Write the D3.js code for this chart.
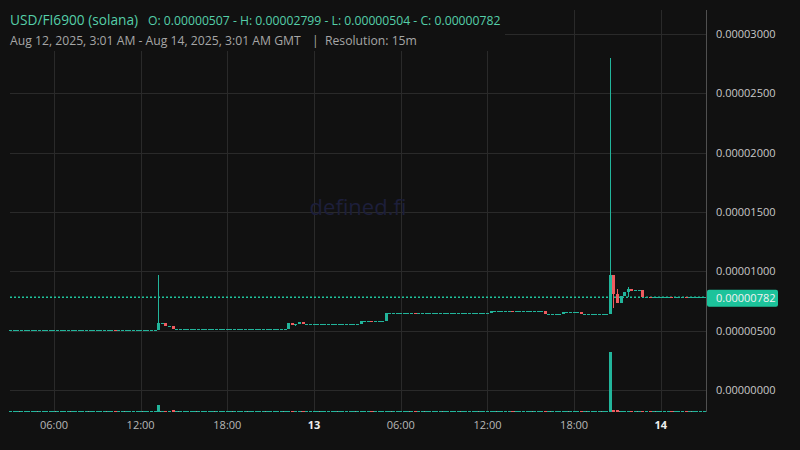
<!DOCTYPE html>
<html><head><meta charset="utf-8">
<script src="https://cdn.jsdelivr.net/npm/d3@7"></script>
<style>html,body{margin:0;padding:0;background:#111111;overflow:hidden}svg{display:block}text{font-family:"Open Sans","Noto Sans",sans-serif}</style>
</head><body>
<svg id="c" width="800" height="450"></svg>
<script>
// ---- data (prices in units of 1e-8) ----
const PRICE_UNIT = 1e-8;
const firstOpen = 507;
const closes = [
 507,507,507,507,507,507,507,507,507,507,507,507,507,507,507,507,507,507,507,507,
 507,507,507,507,507,507,507,507,507,504,504,504,504,504,504,504,504,508,508,508,
 508,567,567,536,538,511,511,511,511,511,511,511,511,511,511,511,511,511,511,511,
 511,511,511,511,511,511,511,511,511,511,511,511,511,511,511,511,511,565,550,553,
 573,553,553,553,553,553,553,553,553,553,553,553,553,553,553,553,553,579,579,579,
 578,578,578,578,646,646,646,646,646,646,646,646,645,645,645,645,645,645,645,645,
 645,645,645,645,645,645,645,645,645,645,645,645,645,663,663,663,663,663,663,662,
 662,662,662,662,662,662,662,662,643,643,643,643,643,657,657,657,657,657,644,644,
 644,644,644,644,644,644,969,809,736,792,823,850,834,840,840,786,786,778,783,783,
 783,783,783,782,782,782,782,781,782,782,782,782,782
];
const wickHighs = [[41, 966], [166, 2799], [168, 851], [171, 868]];
const wickLows  = [[79, 540], [167, 688], [171, 786]];
const volumes = [
 8,6,9,7,10,6,8,9,7,8,10,7,6,9,8,7,9,10,8,6,
 7,9,8,10,7,6,9,8,7,14,8,7,9,6,8,10,7,12,8,9,
 7,70,12,14,10,16,8,7,9,6,8,7,10,9,6,8,7,9,8,10,
 7,6,9,8,7,10,8,6,9,7,8,10,7,9,6,8,7,13,12,10,
 12,11,8,7,9,6,8,10,7,9,8,6,7,9,8,10,7,12,8,7,
 9,8,7,10,14,8,9,7,6,8,10,7,9,8,7,6,9,8,10,7,
 8,9,6,7,10,8,9,7,6,8,9,7,8,12,8,7,9,6,10,9,
 8,7,9,6,8,10,7,8,12,8,9,7,6,11,8,7,9,8,10,8,
 7,9,6,8,7,9,600,25,16,14,12,12,10,9,8,12,8,9,8,7,
 9,6,8,10,7,8,9,7,9,8,7,8,9
];
const startTime = Date.UTC(2025, 7, 12, 3, 0);
const endTime = Date.UTC(2025, 7, 14, 3, 0);
const candleMinutes = 15;
const yTicks = [0, 0.000005, 0.00001, 0.000015, 0.00002, 0.000025, 0.00003];
const xTickTimes = ["2025-08-12T06:00Z","2025-08-12T12:00Z","2025-08-12T18:00Z","2025-08-13T00:00Z","2025-08-13T06:00Z","2025-08-13T12:00Z","2025-08-13T18:00Z","2025-08-14T00:00Z"];
const xTickLabels = ["06:00","12:00","18:00","13","06:00","12:00","18:00","14"];
const lastPrice = 0.00000782;
const titleText = "USD/FI6900 (solana)";
const ohlcText = "O: 0.00000507 - H: 0.00002799 - L: 0.00000504 - C: 0.00000782";
const rangeText = "Aug 12, 2025, 3:01 AM - Aug 14, 2025, 3:01 AM GMT";
const resText = "Resolution: 15m";

// ---- build candles ----
const hiMap = new Map(wickHighs), loMap = new Map(wickLows);
const candles = closes.map((c, i) => {
  const o = i === 0 ? firstOpen : closes[i - 1];
  const h = hiMap.has(i) ? hiMap.get(i) : Math.max(o, c);
  const l = loMap.has(i) ? loMap.get(i) : Math.min(o, c);
  return {t: new Date(startTime + i * candleMinutes * 60000), o: o*PRICE_UNIT, h: h*PRICE_UNIT, l: l*PRICE_UNIT, c: c*PRICE_UNIT, v: volumes[i]};
});

const UP = "#22b59b", DOWN = "#ef5b5f", GRID = "#2a2a2a";
const svg = d3.select("#c");
const plotL = 10, plotR = 706, plotT = 10, plotB = 412;

const x = d3.scaleUtc().domain([new Date(startTime), new Date(endTime)]).range([10.6, 704.2]);
const y = d3.scaleLinear().domain([0, 0.00003]).range([390, 34]);
const yv = d3.scaleLinear().domain([0, d3.max(volumes)]).range([plotB - 0.5, 352]);

// grid
const g = svg.append("g");
g.selectAll("line.h").data(yTicks).join("line")
  .attr("x1", plotL).attr("x2", plotR).attr("y1", d => Math.round(y(d)) + 0.5).attr("y2", d => Math.round(y(d)) + 0.5)
  .attr("stroke", GRID).attr("stroke-width", 1);
g.selectAll("line.v").data(xTickTimes).join("line")
  .attr("x1", d => Math.round(x(new Date(d))) + 0.5).attr("x2", d => Math.round(x(new Date(d))) + 0.5)
  .attr("y1", plotT).attr("y2", plotB).attr("stroke", GRID).attr("stroke-width", 1);

// watermark
svg.append("text").attr("x", 358).attr("y", 215).attr("text-anchor", "middle")
  .attr("font-size", 22).attr("fill", "#1d1f3b").text("defined.fi");

// volume baseline
svg.append("line").attr("x1", plotL).attr("x2", plotR - 1).attr("y1", plotB - 0.5).attr("y2", plotB - 0.5)
  .attr("stroke", "#9a9a9a").attr("stroke-width", 1).attr("stroke-dasharray", "1,2");

// volume bars
const bw = 3;
svg.append("g").attr("shape-rendering", "crispEdges").selectAll("rect").data(candles).join("rect")
  .attr("x", d => Math.round(x(d.t) - bw / 2)).attr("width", bw)
  .attr("y", d => { const h = Math.max(1, Math.round(yv(0) - yv(d.v))); return Math.round(plotB) - h; })
  .attr("height", d => Math.max(1, Math.round(yv(0) - yv(d.v))))
  .attr("fill", d => d.c >= d.o ? UP : DOWN);

// current price dotted line
svg.append("line").attr("x1", plotL).attr("x2", plotR).attr("y1", y(lastPrice)).attr("y2", y(lastPrice))
  .attr("stroke", "#1fc39b").attr("stroke-width", 1.4).attr("stroke-dasharray", "2,2");

// candles
const cg = svg.append("g").attr("shape-rendering", "crispEdges");
cg.selectAll("rect.w").data(candles.filter(d => d.h > Math.max(d.o, d.c) || d.l < Math.min(d.o, d.c))).join("rect")
  .attr("x", d => Math.round(x(d.t) - bw / 2) + 1).attr("width", 1)
  .attr("y", d => y(d.h)).attr("height", d => Math.max(1, y(d.l) - y(d.h)))
  .attr("fill", d => d.c >= d.o ? UP : DOWN);
cg.selectAll("rect.b").data(candles).join("rect")
  .attr("x", d => Math.round(x(d.t) - bw / 2)).attr("width", bw)
  .attr("y", d => Math.min(y(d.o), y(d.c)))
  .attr("height", d => Math.max(1, Math.abs(y(d.o) - y(d.c))))
  .attr("fill", d => d.c >= d.o ? UP : DOWN);

// right axis
svg.append("line").attr("x1", plotR + 0.5).attr("x2", plotR + 0.5).attr("y1", plotT).attr("y2", plotB)
  .attr("stroke", "#505050").attr("stroke-width", 1);
svg.append("g").selectAll("text").data(yTicks).join("text")
  .attr("x", 716).attr("y", d => y(d)).attr("dy", "0.35em")
  .attr("font-size", 11).attr("fill", "#c8c8c8").text(d => d.toFixed(8));

// price tag
svg.append("rect").attr("x", plotR + 1).attr("y", y(lastPrice) - 7.5).attr("width", 71).attr("height", 17).attr("rx", 2)
  .attr("fill", "#1cc39b");
svg.append("text").attr("x", 716).attr("y", y(lastPrice) + 1).attr("dy", "0.35em")
  .attr("font-size", 11).attr("fill", "#f2f2f2").text(lastPrice.toFixed(8));

// x axis labels
svg.append("g").selectAll("text").data(xTickTimes).join("text")
  .attr("x", d => x(new Date(d))).attr("y", 425).attr("dy", "0.35em").attr("text-anchor", "middle")
  .attr("font-size", 11)
  .attr("font-weight", (d, i) => xTickLabels[i].includes(":") ? "normal" : "bold")
  .attr("fill", (d, i) => xTickLabels[i].includes(":") ? "#b8b8b8" : "#eeeeee")
  .text((d, i) => xTickLabels[i]);

// legend
svg.append("rect").attr("x", 0).attr("y", 0).attr("width", 505).attr("height", 51).attr("fill", "#111111");
svg.append("text").attr("x", 10).attr("y", 25).attr("font-size", 13.7).attr("fill", "#55cfa9").text(titleText);
svg.append("text").attr("x", 148).attr("y", 25).attr("font-size", 12.2).attr("fill", "#55cfa9").text(ohlcText);
svg.append("text").attr("x", 10).attr("y", 45).attr("font-size", 12.2).attr("fill", "#a6a6a6").text(rangeText);
svg.append("text").attr("x", 312).attr("y", 45).attr("font-size", 12.2).attr("fill", "#a6a6a6").text("|");
svg.append("text").attr("x", 325).attr("y", 45).attr("font-size", 12.2).attr("fill", "#a6a6a6").text(resText);
</script>
</body></html>
